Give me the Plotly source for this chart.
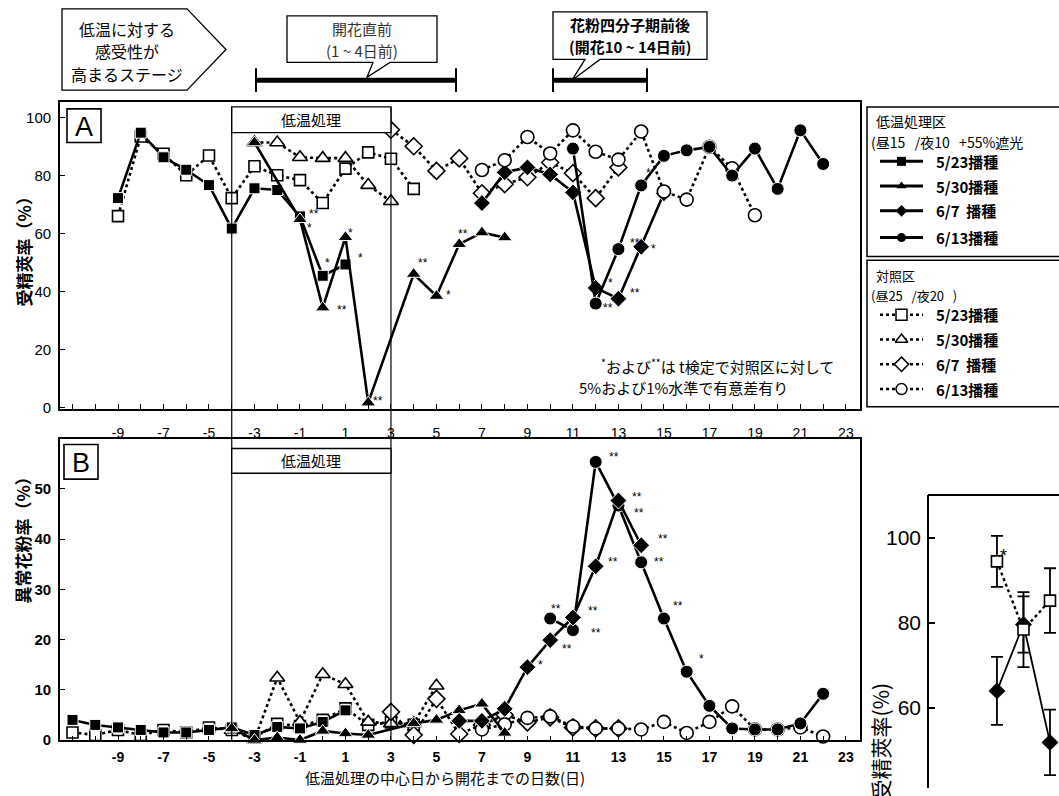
import plotly.graph_objects as go

W, H = 1059, 796
LAT = "Liberation Sans, Arial, Noto Sans CJK JP, sans-serif"
JP = "Noto Sans CJK JP, Liberation Sans, sans-serif"

# ---------------- data ----------------
days_ticks = list(range(-11, 24))
day_labels = [str(d) if (d % 2 != 0 and d >= -9) else "" for d in days_ticks]

# panel A : 受精莢率 (%)
a_sq_t_x = [-9, -8, -7, -6, -5, -4, -3, -2, -1, 0, 1]
a_sq_t_y = [72.3, 94.9, 86.4, 82.1, 76.8, 61.8, 75.7, 75.1, 66.0, 45.5, 49.4]
a_tri_t_x = [-3, -1, 0, 1, 2, 4, 5, 6, 7, 8]
a_tri_t_y = [91.5, 65.0, 34.5, 58.8, 1.7, 46.1, 38.5, 56.4, 60.4, 58.7]
a_dia_t_x = [7, 8, 9, 10, 11, 12, 13, 14, 15]
a_dia_t_y = [70.6, 81.2, 82.9, 80.5, 74.3, 41.3, 37.6, 55.5, 74.0]
a_cir_t_x = [11, 12, 13, 14, 15, 16, 17, 18, 19, 20, 21, 22]
a_cir_t_y = [89.4, 35.9, 54.7, 76.7, 86.9, 88.8, 90.0, 80.1, 89.4, 75.5, 95.7, 84.1]

a_sq_c_x = [-9, -8, -7, -6, -5, -4, -3, -2, -1, 0, 1, 2, 3, 4]
a_sq_c_y = [66.1, 93.6, 87.6, 80.2, 87.0, 72.3, 83.3, 80.2, 78.5, 70.6, 82.5, 88.1, 85.9, 75.5]
a_tri_c_x = [-3, -2, -1, 0, 1, 2, 3]
a_tri_c_y = [91.5, 91.5, 86.4, 86.1, 86.1, 76.8, 71.2]
a_dia_c_x = [3, 4, 5, 6, 7, 8, 9, 10, 11, 12, 13]
a_dia_c_y = [95.9, 90.2, 81.7, 86.0, 74.0, 77.1, 79.5, 84.6, 80.9, 72.3, 82.9]
a_cir_c_x = [7, 8, 9, 10, 11, 12, 13, 14, 15, 16, 17, 18, 19]
a_cir_c_y = [82.0, 85.4, 93.4, 87.7, 95.7, 88.3, 85.6, 95.3, 74.6, 71.8, 90.0, 82.6, 66.4]

# panel B : 異常花粉率 (%)
b_sq_t_x = [-11, -10, -9, -8, -7, -6, -5, -4, -3, -2, -1, 0, 1]
b_sq_t_y = [4.0, 3.0, 2.5, 2.0, 1.5, 1.5, 2.0, 2.5, 1.0, 2.6, 2.3, 3.6, 5.9]
b_tri_t_x = [-4, -3, -2, -1, 0, 1, 2, 4, 5, 6, 7, 8]
b_tri_t_y = [2.3, 0.0, 0.5, 0.0, 1.8, 1.3, 1.0, 3.3, 4.0, 5.9, 7.2, 1.4]
b_dia_t_x = [6, 7, 8, 9, 10, 11, 12, 13, 14]
b_dia_t_y = [3.8, 3.8, 6.2, 14.5, 19.9, 24.4, 34.6, 47.7, 38.8]
b_cir_t_x = [10, 11, 12, 13, 14, 15, 16, 17, 18, 19, 20, 21, 22]
b_cir_t_y = [24.2, 21.9, 55.4, 46.7, 35.4, 24.2, 13.6, 6.8, 2.3, 2.1, 2.1, 3.3, 9.2]

b_sq_c_x = [-11, -10, -9, -8, -7, -6, -5, -4, -3, -2, -1, 0, 1, 2, 3, 4]
b_sq_c_y = [1.5, 1.0, 2.0, 1.0, 2.0, 1.5, 2.5, 2.0, 0.5, 3.2, 2.8, 4.0, 6.3, 3.0, 3.5, 3.0]
b_tri_c_x = [-4, -3, -2, -1, 0, 1, 2, 3, 4, 5]
b_tri_c_y = [2.0, 0.0, 12.4, 3.6, 13.1, 11.1, 3.6, 3.3, 3.3, 10.8]
b_dia_c_x = [3, 4, 5, 6, 7, 8, 9, 10, 11, 12, 13]
b_dia_c_y = [5.6, 1.0, 8.2, 1.2, 3.0, 5.0, 3.5, 4.5, 2.5, 2.3, 2.3]
b_cir_c_x = [7, 8, 9, 10, 11, 12, 13, 14, 15, 16, 17, 18, 19, 20, 21, 22]
b_cir_c_y = [2.1, 3.1, 4.4, 4.7, 2.7, 2.3, 2.3, 2.1, 3.6, 1.4, 3.6, 6.7, 2.1, 2.1, 2.5, 0.7]

# significance marks (day, value, text)
a_marks = [(-0.38, 67.9, "**"), (-0.56, 63.1, "*"), (0.23, 50.8, "*"), (0.85, 34.8, "**"),
           (1.24, 61.4, "*"), (1.68, 52.5, "*"), (2.43, 3.3, "**"), (4.41, 50.8, "**"),
           (5.51, 39.9, "*"), (6.16, 61.1, "**"), (12.63, 43.9, "*"), (12.54, 35.4, "**"),
           (13.73, 40.5, "**"), (13.73, 58.0, "**"), (14.56, 55.9, "*"), (14.30, 81.9, "*")]
b_marks = [(12.80, 56.9, "**"), (13.81, 49.0, "**"), (13.90, 45.9, "**"), (14.96, 40.7, "**"),
           (14.78, 36.0, "**"), (12.76, 36.0, "**"), (15.62, 27.3, "**"), (10.25, 26.7, "**"),
           (11.88, 26.3, "**"), (12.01, 22.0, "**"), (10.74, 18.8, "**"), (9.59, 15.5, "*"),
           (16.63, 16.7, "*")]

# inset : 受精莢率 with error bars
inset_x = [1, 2, 3]
inset_ctrl = [94.4, 78.4, 85.2]
inset_ctrl_err = [6.0, 8.8, 7.6]
inset_trt = [64.0, 79.6, 51.9]
inset_trt_err = [8.0, 6.6, 7.7]
inset_ticks = [60, 80, 100]

sowing = ["5/23播種", "5/30播種", "6/7\u00a0\u00a0播種", "6/13播種"]

# ---------------- helpers ----------------
def fx(p):
    return p / W


def fy(p):
    return 1 - p / H


fig = go.Figure()

FILLED = dict(square="square", tri="triangle-up", dia="diamond", cir="circle")
SIZES = dict(square=11, tri=13, dia=13, cir=13)


def series(x, y, kind, treated, xa, ya):
    if treated:
        marker = dict(symbol=FILLED[kind], size=SIZES[kind], color="black",
                      line=dict(color="white", width=1))
        line = dict(color="black", width=2.6)
    else:
        marker = dict(symbol=FILLED[kind], size=SIZES[kind], color="white",
                      line=dict(color="black", width=1.6))
        line = dict(color="black", width=2.6, dash="dot")
    fig.add_trace(go.Scatter(x=x, y=y, mode="lines+markers", marker=marker, line=line,
                             xaxis=xa, yaxis=ya, showlegend=False, hoverinfo="skip",
                             cliponaxis=False))


# panel A traces (controls underneath where they overlap)
series(a_sq_c_x, a_sq_c_y, "square", False, "x", "y")
series(a_tri_c_x, a_tri_c_y, "tri", False, "x", "y")
series(a_dia_c_x, a_dia_c_y, "dia", False, "x", "y")
series(a_dia_t_x, a_dia_t_y, "dia", True, "x", "y")
series(a_cir_c_x, a_cir_c_y, "cir", False, "x", "y")
series(a_sq_t_x, a_sq_t_y, "square", True, "x", "y")
series(a_tri_t_x, a_tri_t_y, "tri", True, "x", "y")
series(a_cir_t_x, a_cir_t_y, "cir", True, "x", "y")

# panel B traces
series(b_sq_c_x, b_sq_c_y, "square", False, "x2", "y2")
series(b_tri_c_x, b_tri_c_y, "tri", False, "x2", "y2")
series(b_dia_c_x, b_dia_c_y, "dia", False, "x2", "y2")
series(b_cir_c_x, b_cir_c_y, "cir", False, "x2", "y2")
series(b_sq_t_x, b_sq_t_y, "square", True, "x2", "y2")
series(b_tri_t_x, b_tri_t_y, "tri", True, "x2", "y2")
series(b_cir_t_x, b_cir_t_y, "cir", True, "x2", "y2")
series(b_dia_t_x, b_dia_t_y, "dia", True, "x2", "y2")

# inset
fig.add_trace(go.Scatter(x=inset_x, y=inset_trt, mode="lines+markers",
                         marker=dict(symbol="diamond", size=13, color="black"),
                         line=dict(color="black", width=1.8),
                         error_y=dict(type="data", array=inset_trt_err, color="black",
                                      thickness=1.8, width=6),
                         xaxis="x3", yaxis="y3", showlegend=False, hoverinfo="skip",
                         cliponaxis=False))
fig.add_trace(go.Scatter(x=inset_x, y=inset_ctrl, mode="lines+markers",
                         marker=dict(symbol="square", size=11, color="white",
                                     line=dict(color="black", width=1.6)),
                         line=dict(color="black", width=2.4, dash="dot"),
                         error_y=dict(type="data", array=inset_ctrl_err, color="black",
                                      thickness=1.8, width=6),
                         xaxis="x3", yaxis="y3", showlegend=False, hoverinfo="skip",
                         cliponaxis=False))

# legend samples drawn on a pixel-space overlay axis
leg_rows_t = [163, 188, 213, 240]
leg_rows_c = [318, 343, 368, 393]
for row, kind in zip(leg_rows_t, ["square", "tri", "dia", "cir"]):
    fig.add_trace(go.Scatter(x=[880, 923], y=[row, row], mode="lines",
                             line=dict(color="black", width=3), xaxis="x4", yaxis="y4",
                             showlegend=False, hoverinfo="skip"))
    fig.add_trace(go.Scatter(x=[901.5], y=[row], mode="markers",
                             marker=dict(symbol=FILLED[kind], size=9, color="black"),
                             xaxis="x4", yaxis="y4", showlegend=False, hoverinfo="skip"))
for row, kind in zip(leg_rows_c, ["square", "tri", "dia", "cir"]):
    fig.add_trace(go.Scatter(x=[880, 923], y=[row, row], mode="lines",
                             line=dict(color="black", width=2.5, dash="dot"), xaxis="x4",
                             yaxis="y4", showlegend=False, hoverinfo="skip"))
    fig.add_trace(go.Scatter(x=[901.5], y=[row], mode="markers",
                             marker=dict(symbol=FILLED[kind], size=11, color="white",
                                         line=dict(color="black", width=1.5)),
                             xaxis="x4", yaxis="y4", showlegend=False, hoverinfo="skip"))

# ---------------- axes ----------------
xdom = [fx(60), fx(860)]
xr = [-11.55, 23.62]
common_x = dict(domain=xdom, range=xr, tickmode="array", tickvals=days_ticks,
                ticktext=day_labels, ticks="inside", ticklen=5, tickwidth=1.2,
                tickcolor="black", showline=True, linecolor="black", linewidth=1.8,
                mirror=True, showgrid=False, zeroline=False)
fig.update_layout(
    xaxis=dict(common_x, anchor="y", ticklabelstandoff=10,
               tickfont=dict(family=LAT, size=14, color="black")),
    yaxis=dict(domain=[fy(413), fy(103)], range=[-0.44, 105.5], anchor="x",
               tickvals=[0, 20, 40, 60, 80, 100], ticks="inside", ticklen=5,
               tickcolor="black", tickwidth=1.2, showline=True, linecolor="black",
               linewidth=1.8, mirror=True, showgrid=False, zeroline=False,
               tickfont=dict(family=LAT, size=15, color="black"), ticklabelstandoff=4),
    xaxis2=dict(common_x, anchor="y2", ticklabelstandoff=3,
                tickfont=dict(family=LAT, size=14, color="black", weight="bold")),
    yaxis2=dict(domain=[fy(748), fy(443)], range=[-0.1, 60.05], anchor="x2",
                tickvals=[0, 10, 20, 30, 40, 50], ticks="inside", ticklen=5,
                tickcolor="black", tickwidth=1.2, showline=True, linecolor="black",
                linewidth=1.8, mirror=True, showgrid=False, zeroline=False,
                tickfont=dict(family=LAT, size=15, color="black", weight="bold"),
                ticklabelstandoff=4),
    xaxis3=dict(domain=[fx(928), 1.0], range=[-1.6, 3.34], anchor="y3", visible=False),
    yaxis3=dict(domain=[0.0, fy(500)], range=[41.2, 110], anchor="x3",
                tickvals=inset_ticks, ticks="inside", ticklen=7, tickcolor="black",
                tickwidth=1.5, showline=False, showgrid=False, zeroline=False,
                tickfont=dict(family=LAT, size=21, color="black"), ticklabelstandoff=6),
    xaxis4=dict(domain=[0, 1], range=[0, W], anchor="y4", visible=False),
    yaxis4=dict(domain=[0, 1], range=[H, 0], anchor="x4", visible=False),
    width=W, height=H, margin=dict(l=0, r=0, t=0, b=0),
    paper_bgcolor="white", plot_bgcolor="rgba(0,0,0,0)",
    font=dict(family=JP, color="black"),
)

shapes = []
ann = []


def note(x, y, text, size, family=JP, xanchor="center", angle=0, color="black"):
    ann.append(dict(x=fx(x), y=fy(y), xref="paper", yref="paper", text=text,
                    showarrow=False, xanchor=xanchor, yanchor="middle", textangle=angle,
                    font=dict(family=family, size=size, color=color)))


# treatment period lines and boxes
for d in (-4, 3):
    shapes.append(dict(type="line", xref="x", yref="paper", x0=d, x1=d,
                       y0=fy(748), y1=fy(108), line=dict(color="black", width=1.2)))
for top, bot in ((108, 134), (453, 478)):
    shapes.append(dict(type="rect", xref="x", yref="paper", x0=-4, x1=3,
                       y0=fy(bot), y1=fy(top), fillcolor="white",
                       line=dict(color="black", width=1.4)))
    ann.append(dict(x=-0.5, xref="x", y=fy((top + bot) / 2), yref="paper", text="低温処理",
                    showarrow=False, xanchor="center", yanchor="middle",
                    font=dict(family=JP, size=15)))

# panel letters
for (x0, y0, x1, y1, t) in ((67, 110, 101, 144, "A"), (64, 449, 98, 484, "B")):
    shapes.append(dict(type="rect", xref="paper", yref="paper", x0=fx(x0), x1=fx(x1),
                       y0=fy(y1), y1=fy(y0), fillcolor="white",
                       line=dict(color="black", width=1.6)))
    note((x0 + x1) / 2, (y0 + y1) / 2 + 1, t, 27, family=LAT)

# significance marks
for d, v, t in a_marks:
    ann.append(dict(x=d, y=v, xref="x", yref="y", text=t, showarrow=False,
                    xanchor="center", yanchor="middle",
                    font=dict(family=LAT, size=12), yshift=-3))
for d, v, t in b_marks:
    ann.append(dict(x=d, y=v, xref="x2", yref="y2", text=t, showarrow=False,
                    xanchor="center", yanchor="middle",
                    font=dict(family=LAT, size=12), yshift=-3))

note(717, 370, "<sup>*</sup>および<sup>**</sup>は t検定で対照区に対して", 15)
note(683, 391, "5%および1%水準で有意差有り", 15)

# axis titles
note(23, 250, "<b>受精莢率（%）</b>", 17, angle=-90)
note(23, 542, "<b>異常花粉率（%）</b>", 17, angle=-90)
note(445, 785, "低温処理の中心日から開花までの日数(日)", 15)

# legend boxes
shapes.append(dict(type="rect", xref="paper", yref="paper", x0=fx(867), x1=fx(1065),
                   y0=fy(259), y1=fy(108), line=dict(color="black", width=1.5)))
shapes.append(dict(type="rect", xref="paper", yref="paper", x0=fx(867), x1=fx(1065),
                   y0=fy(411), y1=fy(263), line=dict(color="black", width=1.5)))
note(874, 122, "低温処理区", 14, xanchor="left")
note(869, 143, "(昼15\u00a0\u00a0\u00a0/夜10\u00a0\u00a0\u00a0+55%遮光", 14, xanchor="left")
note(874, 278, "対照区", 13, xanchor="left")
note(869, 299, "(昼25\u00a0\u00a0\u00a0/夜20\u00a0\u00a0\u00a0)", 13, xanchor="left")
for rows in (leg_rows_t, leg_rows_c):
    for row, label in zip(rows, sowing):
        note(934, row, "<b>" + label + "</b>", 15, xanchor="left")


# top annotations: stage arrow, callouts and period bars
def path(pts):
    return "M" + " L".join(f"{fx(x):.5f},{fy(y):.5f}" for x, y in pts) + " Z"


shapes.append(dict(type="path", xref="paper", yref="paper",
                   path=path([(62, 9), (187, 9), (226, 50), (187, 91), (62, 91)]),
                   fillcolor="white", line=dict(color="black", width=1.3)))
for i, t in enumerate(["低温に対する", "感受性が", "高まるステージ"]):
    note(127, 29 + 23 * i, t, 16)

shapes.append(dict(type="path", xref="paper", yref="paper",
                   path=path([(287, 16), (437, 16), (437, 63), (390, 63), (367, 78),
                              (373, 63), (287, 63)]),
                   fillcolor="white", line=dict(color="black", width=1.3)))
note(362, 29, "開花直前", 15, color="#333")
note(362, 51, "(1 ~ 4日前)", 15, color="#333")

shapes.append(dict(type="path", xref="paper", yref="paper",
                   path=path([(553, 12), (707, 12), (707, 60), (600, 60), (572, 81),
                              (585, 60), (553, 60)]),
                   fillcolor="white", line=dict(color="black", width=1.3)))
note(630, 25, "<b>花粉四分子期前後</b>", 15)
note(630, 47, "<b>(開花10 ~ 14日前)</b>", 15)

for x0, x1 in ((256, 456), (553, 647)):
    shapes.append(dict(type="line", xref="paper", yref="paper", x0=fx(x0), x1=fx(x1),
                       y0=fy(81), y1=fy(81), line=dict(color="black", width=5)))
    for xe in (x0, x1):
        shapes.append(dict(type="line", xref="paper", yref="paper", x0=fx(xe), x1=fx(xe),
                           y0=fy(93), y1=fy(69), line=dict(color="black", width=2)))

# inset frame, title and partial tick label
shapes.append(dict(type="line", xref="paper", yref="paper", x0=fx(928), x1=1.0,
                   y0=fy(500), y1=fy(500), line=dict(color="black", width=2)))
shapes.append(dict(type="line", xref="paper", yref="paper", x0=fx(928), x1=fx(928),
                   y0=0, y1=fy(500), line=dict(color="black", width=2)))
note(880, 749, "受精莢率(%)", 21, angle=-90)
ann.append(dict(x=fx(917), y=40, xref="paper", yref="y3", xanchor="right",
                yanchor="middle", showarrow=False, text="40",
                font=dict(family=LAT, size=21)))
ann.append(dict(x=1.23, y=95.6, xref="x3", yref="y3", showarrow=False, text="*",
                xanchor="center", yanchor="middle", font=dict(family=LAT, size=18)))

fig.update_layout(shapes=shapes, annotations=ann)
fig.write_html("out.html")
